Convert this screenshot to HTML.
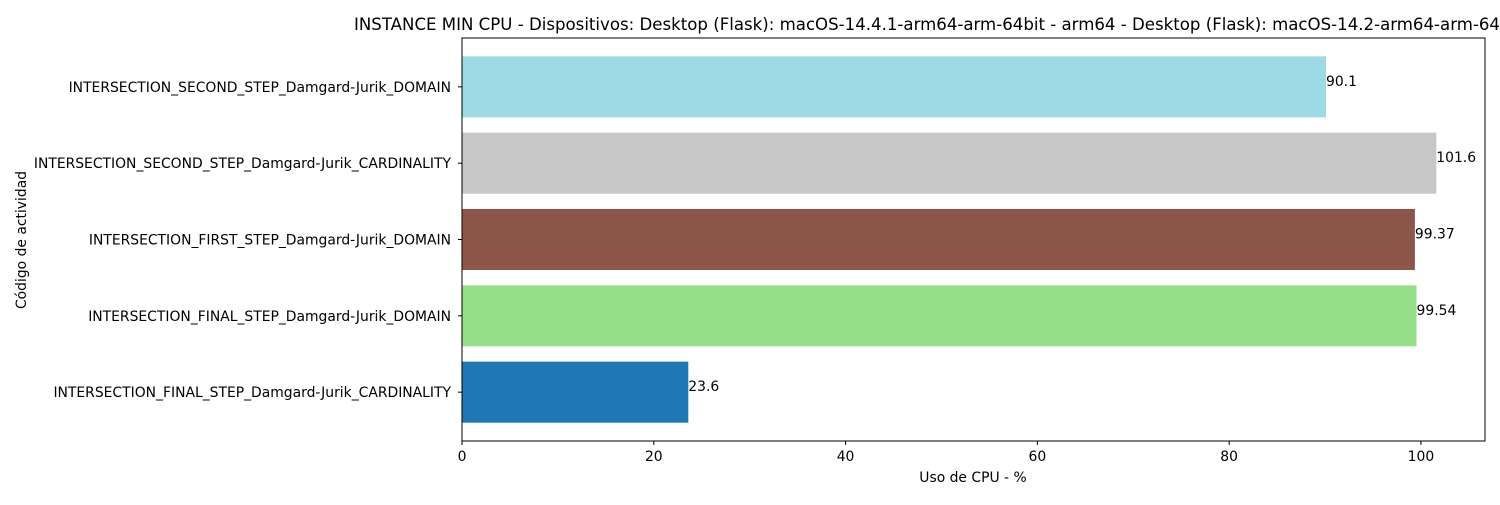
<!DOCTYPE html>
<html><head><meta charset="utf-8"><style>
body{margin:0;background:#fff;}
svg text{font-family:"DejaVu Sans","Liberation Sans",sans-serif;}
</style></head><body>
<svg id="chart" width="1500" height="500" xmlns="http://www.w3.org/2000/svg">
<rect width="1500" height="500" fill="#fff"/>
<text x="354" y="30" font-size="16.5" textLength="1146" lengthAdjust="spacingAndGlyphs">INSTANCE MIN CPU - Dispositivos: Desktop (Flask): macOS-14.4.1-arm64-arm-64bit - arm64 - Desktop (Flask): macOS-14.2-arm64-arm-64</text>
<g id="plot"></g>
<text x="973" y="482" font-size="13.9" text-anchor="middle">Uso de CPU - %</text>
<text transform="translate(26,240) rotate(-90)" font-size="13.9" text-anchor="middle">Código de actividad</text>
</svg>
<script>
const categories=["INTERSECTION_FINAL_STEP_Damgard-Jurik_CARDINALITY","INTERSECTION_FINAL_STEP_Damgard-Jurik_DOMAIN","INTERSECTION_FIRST_STEP_Damgard-Jurik_DOMAIN","INTERSECTION_SECOND_STEP_Damgard-Jurik_CARDINALITY","INTERSECTION_SECOND_STEP_Damgard-Jurik_DOMAIN"];
const values=[23.6,99.54,99.37,101.6,90.1];
const labels=["23.6","99.54","99.37","101.6","90.1"];
const colors=["#1f77b4","#98df8a","#8c564b","#c7c7c7","#9edae5"];
const xTicks=[0,20,40,60,80,100];
const L=462,R=1485,T=38,B=441;
const xmax=Math.max(...values)*1.05;
const x=v=>L+v/xmax*(R-L);
const n=categories.length;
const y0=-0.4-0.05*(n-1+0.8), y1=n-1+0.4+0.05*(n-1+0.8);
const y=v=>B-(v-y0)/(y1-y0)*(B-T);
const ns="http://www.w3.org/2000/svg";
const g=document.getElementById('plot');
function mk(t,a){const e=document.createElementNS(ns,t);for(const k in a)e.setAttribute(k,a[k]);g.appendChild(e);return e;}
values.forEach((v,i)=>{
 const r=mk('rect',{x:L,y:y(i+0.4),width:x(v)-L,height:y(i-0.4)-y(i+0.4),fill:colors[i]});
 
 
 const t=mk('text',{x:x(v),y:y(i)-1,'font-size':13.9});t.textContent=labels[i];
 
 
 const c=mk('text',{x:L-11,y:y(i)+5,'font-size':13.9,'text-anchor':'end'});c.textContent=categories[i];
 
 
 mk('line',{x1:L-4,x2:L,y1:y(i),y2:y(i),stroke:'#000'});
});
xTicks.forEach(v=>{
 mk('line',{x1:x(v),x2:x(v),y1:B,y2:B+4,stroke:'#000'});
 const t=mk('text',{x:x(v),y:B+20,'font-size':13.9,'text-anchor':'middle'});t.textContent=v;
 
 
});
const f=mk('rect',{x:L,y:T,width:R-L,height:B-T,fill:'none',stroke:'#000','stroke-width':1});


</script>
</body></html>
